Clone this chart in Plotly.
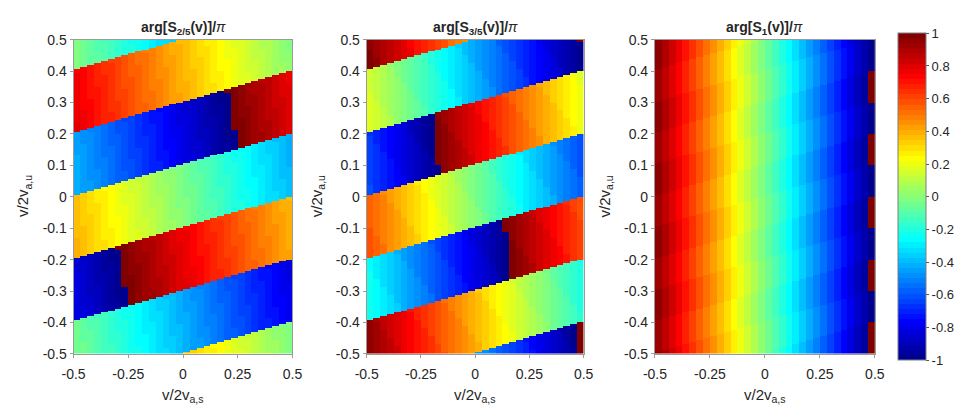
import numpy as np
import plotly.graph_objects as go

# ---------------- data ----------------
titles = [
    "<b>arg[S<sub>2/5</sub>(v)]/</b><i>π</i>",
    "<b>arg[S<sub>3/5</sub>(v)]/</b><i>π</i>",
    "<b>arg[S<sub>1</sub>(v)]/</b><i>π</i>",
]
# phase/pi of each diagonal band (top band first) at the left border v/2v_a,s = -0.5
band_phase_p1 = [-0.02, 0.78, -0.42, 0.38, -0.82, -0.02, 0.78]
band_phase_p2 = [0.98, 0.18, -0.62, 0.58, -0.22, 0.98, 0.18]
band_phase_p3 = [0.969, 0.969, 0.969, 0.969, 0.969, 0.969, 0.969]
# phase change/pi across the full horizontal range inside one band
x_phase_change = [-0.8, -1.2, -2.0]
# phase change/pi per unit of v/2v_a,u inside one band
y_phase_slope = [-0.2, -0.2, -0.2]
# band geometry
band_edge_left = 0.403   # upper edge of band 1 at the left border
band_rise = 0.2          # rise of the band edges across the width
band_width = 0.2
n_cols, n_rows = 32, 160

x_tickvals = [-0.5, -0.25, 0, 0.25, 0.5]
x_ticktext = ["-0.5", "-0.25", "0", "0.25", "0.5"]
y_tickvals = [0.5, 0.4, 0.3, 0.2, 0.1, 0, -0.1, -0.2, -0.3, -0.4, -0.5]
y_ticktext = ["0.5", "0.4", "0.3", "0.2", "0.1", "0", "-0.1", "-0.2", "-0.3", "-0.4", "-0.5"]
cb_tickvals = [1, 0.8, 0.6, 0.4, 0.2, 0, -0.2, -0.4, -0.6, -0.8, -1]
cb_ticktext = ["1", "0.8", "0.6", "0.4", "0.2", "0", "-0.2", "-0.4", "-0.6", "-0.8", "-1"]

# ---------------- build the phase maps ----------------
xc = -0.5 + (np.arange(n_cols) + 0.5) / n_cols
yc = -0.5 + (np.arange(n_rows) + 0.5) / n_rows
X, Y = np.meshgrid(xc, yc)


def phase_map(band_phase, dx_total, dy_slope):
    ph = np.array(band_phase)
    ytop = band_edge_left + band_rise * (X + 0.5)
    u = (ytop - Y) / band_width
    k = np.floor(u).astype(int) + 1
    ymid = ytop - band_width * (k - 0.5)
    v = ph[k] + dx_total * (X + 0.5) + dy_slope * (Y - ymid)
    return (v + 1) % 2 - 1


maps = [
    phase_map(band_phase_p1, x_phase_change[0], y_phase_slope[0]),
    phase_map(band_phase_p2, x_phase_change[1], y_phase_slope[1]),
    phase_map(band_phase_p3, x_phase_change[2], y_phase_slope[2]),
]


# ---------------- MATLAB jet(64) colormap ----------------
def jet(m=64):
    n = int(np.ceil(m / 4))
    u = np.concatenate([np.arange(1, n + 1) / n, np.ones(n - 1), np.arange(n, 0, -1) / n])
    g = int(np.ceil(n / 2)) - (1 if m % 4 == 1 else 0) + np.arange(1, len(u) + 1)
    r = g + n
    b = g - n
    J = np.zeros((m, 3))
    mr = r <= m
    J[r[mr] - 1, 0] = u[mr]
    mg = (g >= 1) & (g <= m)
    J[g[mg] - 1, 1] = u[mg]
    mb = b >= 1
    J[b[mb] - 1, 2] = u[mb]
    return J


J = jet(64)
colorscale = []
for i, c in enumerate(J):
    col = "rgb(%d,%d,%d)" % tuple(int(round(255 * t)) for t in c)
    colorscale.append([i / 64, col])
    colorscale.append([(i + 1) / 64, col])

# ---------------- layout geometry (pixels) ----------------
W, H = 963, 407
px_x = lambda p: p / W
px_y = lambda p: 1 - p / H
x_doms = [(63, 287), (363, 585), (658, 883)]
y_top_px, y_bot_px = 33, 360
FONT = "Liberation Sans, Arial, sans-serif"
TXT = "#262626"

fig = go.Figure()
for i, z in enumerate(maps):
    sfx = "" if i == 0 else str(i + 1)
    tr = dict(
        z=z, x=xc, y=yc, colorscale=colorscale, zmin=-1, zmax=1,
        xaxis="x" + sfx, yaxis="y" + sfx, showscale=(i == 2), hoverinfo="skip",
    )
    if i == 2:
        tr["colorbar"] = dict(
            x=px_x(907), xanchor="left", xref="paper",
            y=px_y((y_top_px + y_bot_px) / 2), yanchor="middle",
            len=y_bot_px - y_top_px, lenmode="pixels",
            thickness=28, thicknessmode="pixels",
            outlinewidth=1, outlinecolor="#7f7f7f",
            tickvals=cb_tickvals, ticktext=cb_ticktext,
            ticks="outside", ticklen=3, tickcolor="#555",
            tickfont=dict(family=FONT, size=13, color=TXT),
            xpad=0, ypad=0,
        )
    fig.add_trace(go.Heatmap(**tr))

layout = dict(
    width=W, height=H, margin=dict(l=0, r=0, t=0, b=0),
    paper_bgcolor="white", plot_bgcolor="white", showlegend=False,
    font=dict(family=FONT, size=13, color=TXT),
)
axis_common = dict(
    range=[-0.5, 0.5], showgrid=False, zeroline=False, showline=True,
    linecolor="#9a9a9a", linewidth=1, mirror=True, ticks="outside", ticklen=3,
    tickcolor="#9a9a9a", tickfont=dict(family=FONT, size=14, color=TXT),
)
annotations = []
for i, (a, b) in enumerate(x_doms):
    sfx = "" if i == 0 else str(i + 1)
    layout["xaxis" + sfx] = dict(
        axis_common, domain=[px_x(a), px_x(b)], anchor="y" + sfx,
        tickvals=x_tickvals, ticktext=x_ticktext, ticklabelstandoff=4,
    )
    layout["yaxis" + sfx] = dict(
        axis_common, domain=[px_y(y_bot_px), px_y(y_top_px)], anchor="x" + sfx,
        tickvals=y_tickvals, ticktext=y_ticktext,
    )
    cx = (a + b) / 2
    annotations.append(dict(
        text=titles[i], x=px_x(cx), y=px_y(21), xref="paper", yref="paper",
        xanchor="center", yanchor="middle", showarrow=False,
        font=dict(family=FONT, size=14, color=TXT),
    ))
    annotations.append(dict(
        text="v/2v<sub>a,s</sub>", x=px_x(cx), y=px_y(391), xref="paper", yref="paper",
        xanchor="center", yanchor="top", showarrow=False,
        font=dict(family=FONT, size=15, color=TXT),
    ))
    annotations.append(dict(
        text="v/2v<sub>a,u</sub>", x=px_x(a - 51), y=px_y(196), xref="paper", yref="paper",
        xanchor="center", yanchor="middle", textangle=-90, showarrow=False,
        font=dict(family=FONT, size=15, color=TXT),
    ))
layout["annotations"] = annotations
fig.update_layout(**layout)
fig.write_html("out.html")
